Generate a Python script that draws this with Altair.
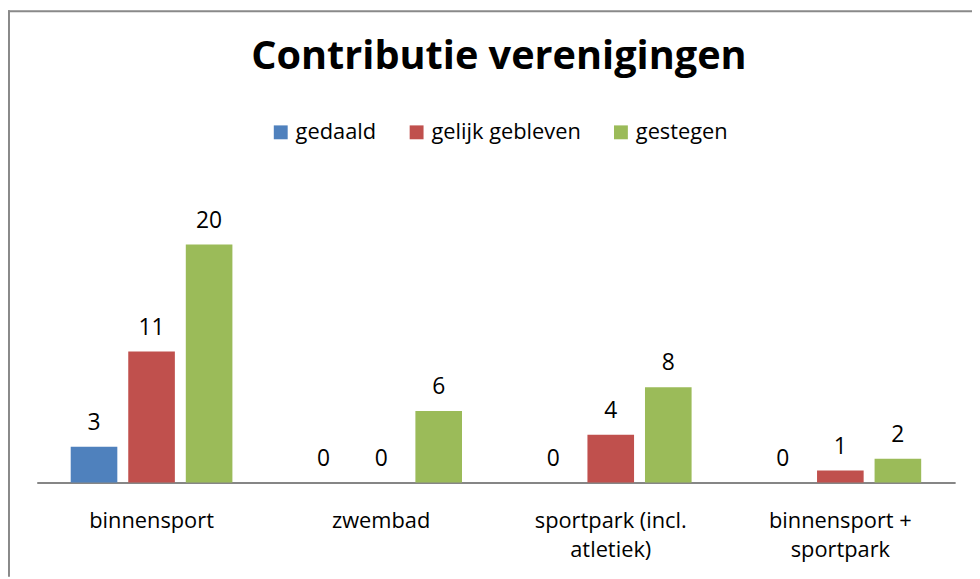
import altair as alt
import pandas as pd

categories = ["binnensport", "zwembad", "sportpark (incl.\natletiek)", "binnensport +\nsportpark"]
series = ["gedaald", "gelijk gebleven", "gestegen"]
gedaald = [3, 0, 0, 0]
gelijk_gebleven = [11, 0, 4, 1]
gestegen = [20, 6, 8, 2]
colors = ["#4F81BD", "#C0504D", "#9BBB59"]
title_text = "Contributie verenigingen"

rows = []
for s, vals in zip(series, [gedaald, gelijk_gebleven, gestegen]):
    for c, v in zip(categories, vals):
        rows.append({"categorie": c, "reeks": s, "waarde": v})
df = pd.DataFrame(rows)

FONT = "Open Sans"
W, H = 972, 571

x = alt.X(
    "categorie:N",
    sort=categories,
    scale=alt.Scale(range=[29, 955], paddingInner=0, paddingOuter=0),
    axis=alt.Axis(
        title=None,
        offset=-95,
        domainColor="#868686",
        domainWidth=2,
        ticks=False,
        labelAngle=0,
        labelFont=FONT,
        labelFontSize=22,
        labelColor="#000000",
        labelPadding=45,
        labelLineHeight=30,
        labelBaseline="alphabetic",
        labelExpr="split(datum.label, '\\n')",
    ),
)
xo = alt.XOffset(
    "reeks:N",
    sort=series,
    scale=alt.Scale(domain=series, paddingInner=0.19, paddingOuter=0.59),
)
y = alt.Y(
    "waarde:Q",
    scale=alt.Scale(domain=[0, 20], range=[476, 236], nice=False, zero=True),
    axis=None,
)

bars = alt.Chart(df).mark_bar().encode(
    x=x,
    xOffset=xo,
    y=y,
    color=alt.Color(
        "reeks:N",
        sort=series,
        scale=alt.Scale(domain=series, range=colors),
        legend=alt.Legend(
            title=None,
            orient="none",
            legendX=264,
            legendY=112,
            direction="horizontal",
            symbolType="square",
            symbolSize=196,
            symbolStrokeWidth=0,
            labelFont=FONT,
            labelFontSize=22,
            labelColor="#000000",
            labelOffset=4,
            columnPadding=29,
        ),
    ),
)

labels = alt.Chart(df).mark_text(
    font=FONT, fontSize=23, color="#000000", baseline="alphabetic", dy=-17
).encode(
    x=alt.X("categorie:N", sort=categories),
    xOffset=alt.XOffset("reeks:N", sort=series),
    y=alt.Y("waarde:Q"),
    text=alt.Text("waarde:Q"),
)

one = alt.Data(values=[{"t": title_text}])
title = alt.Chart(one).mark_text(
    font=FONT, fontSize=40, fontWeight="bold", color="#000000",
    baseline="alphabetic", align="center",
).encode(
    x=alt.value(495), y=alt.value(59), text="t:N"
)

border_top = alt.Chart(one).mark_rule(color="#898989", strokeWidth=2).encode(
    x=alt.value(0), x2=alt.value(W), y=alt.value(1)
)
border_left = alt.Chart(one).mark_rule(color="#898989", strokeWidth=2).encode(
    x=alt.value(1), y=alt.value(0), y2=alt.value(H)
)

chart = alt.layer(bars, labels, title, border_top, border_left).properties(
    width=W, height=H, autosize=alt.AutoSizeParams(type="none"), padding=0
).configure_view(stroke=None).resolve_scale(x="shared", y="shared")

chart.save("out.html", embed_options={"renderer": "svg", "actions": False})
